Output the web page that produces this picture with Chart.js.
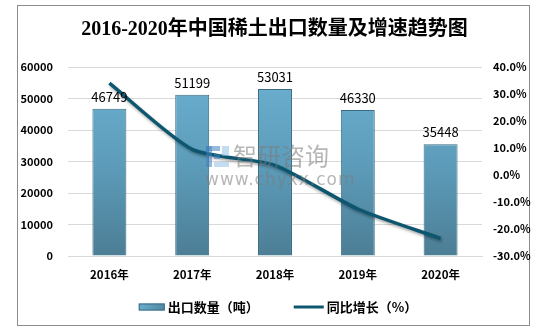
<!DOCTYPE html>
<html>
<head>
<meta charset="utf-8">
<script src="https://cdn.jsdelivr.net/npm/chart.js@4/dist/chart.umd.min.js"></script>
<style>
  html, body { margin: 0; padding: 0; background: #fff; }
  #wrap { width: 549px; height: 335px; position: relative; }
</style>
</head>
<body>
<div id="wrap"><canvas id="myChart"></canvas></div>
<script>
const years = ["2016年", "2017年", "2018年", "2019年", "2020年"];
const exportTons = [46749, 51199, 53031, 46330, 35448];
const growthPct = [34.0, 9.5, 3.6, -12.6, -23.5];

const titleText = "2016-2020年中国稀土出口数量及增速趋势图";
const barLabel = "出口数量（吨）";
const lineLabel = "同比增长（%）";

const fontCn = '"Noto Sans CJK SC", "Microsoft YaHei", sans-serif';
const lineColor = "#0d566f";
const barBorder = "#3b6c83";

const myChart = document.getElementById("myChart");

// bar fill: light steel blue at the top fading to a darker tone at the base
const barFill = (context) => {
  const { ctx, chartArea } = context.chart;
  if (!chartArea) {
    return "#5d9bb9";
  }
  const grad = ctx.createLinearGradient(0, chartArea.top, 0, chartArea.bottom);
  grad.addColorStop(0, "#6cb0d0");
  grad.addColorStop(0.5, "#5d9dbb");
  grad.addColorStop(1, "#4c7e95");
  return grad;
};

// grey frame round the whole figure
const framePlugin = {
  id: "frame",
  beforeDraw: (chart) => {
    const ctx = chart.ctx;
    ctx.save();
    ctx.strokeStyle = "#8c8c8c";
    ctx.lineWidth = 1;
    ctx.strokeRect(17.5, 5.5, 512, 320);
    ctx.restore();
  },
};

// soft shadow under the growth line
const shadowPlugin = {
  id: "lineShadow",
  beforeDatasetDraw: (chart, args) => {
    if (args.meta.type === "line") {
      const ctx = chart.ctx;
      ctx.save();
      ctx.shadowColor = "rgba(0,0,0,0.35)";
      ctx.shadowBlur = 3;
      ctx.shadowOffsetX = 1;
      ctx.shadowOffsetY = 2;
    }
  },
  afterDatasetDraw: (chart, args) => {
    if (args.meta.type === "line") {
      chart.ctx.restore();
    }
  },
};

// value printed above each bar
const valuePlugin = {
  id: "barValues",
  afterDatasetsDraw: (chart) => {
    const ctx = chart.ctx;
    const meta = chart.getDatasetMeta(1);
    ctx.save();
    ctx.font = "13px " + fontCn;
    ctx.fillStyle = "#000";
    ctx.textAlign = "center";
    ctx.textBaseline = "middle";
    meta.data.forEach((bar, i) => {
      ctx.fillText(String(exportTons[i]), bar.x, bar.y - 12);
    });
    ctx.restore();
  },
};

// legend row under the axis: bar swatch, then line swatch, wide gap between
const legendPlugin = {
  id: "legendRow",
  afterDraw: (chart) => {
    const ctx = chart.ctx;
    const y = 307;
    const gap = 3;
    const itemGap = 35;
    ctx.save();
    ctx.font = "bold 13px " + fontCn;
    ctx.textBaseline = "middle";
    const w1 = ctx.measureText(barLabel).width;
    const w2 = ctx.measureText(lineLabel).width;
    const total = 26 + gap + w1 + itemGap + 30 + gap + w2;
    let x = 278 - total / 2;

    const sw = ctx.createLinearGradient(x, 0, x + 26, 0);
    sw.addColorStop(0, "#6aaecd");
    sw.addColorStop(1, "#4f87a1");
    ctx.fillStyle = sw;
    ctx.fillRect(x, y - 3.5, 26, 7);
    ctx.strokeStyle = barBorder;
    ctx.lineWidth = 1;
    ctx.strokeRect(x + 0.5, y - 3, 25, 6);
    x += 26 + gap;
    ctx.fillStyle = "#000";
    ctx.fillText(barLabel, x, y);
    x += w1 + itemGap;

    ctx.strokeStyle = lineColor;
    ctx.lineWidth = 3;
    ctx.beginPath();
    ctx.moveTo(x, y);
    ctx.lineTo(x + 30, y);
    ctx.stroke();
    x += 30 + gap;
    ctx.fillText(lineLabel, x, y);
    ctx.restore();
  },
};

// faint company mark across the middle of the plot
const markPlugin = {
  id: "mark",
  afterDraw: (chart) => {
    const ctx = chart.ctx;
    ctx.save();
    ctx.globalAlpha = 0.55;
    ctx.fillStyle = "#3f7fc0";
    ctx.fillRect(206, 146, 6, 21);
    ctx.fillRect(206, 146, 14, 5);
    ctx.fillRect(214, 154, 6, 5);
    ctx.fillStyle = "#8fc0e8";
    ctx.fillRect(222, 146, 7, 10);
    ctx.fillRect(214, 162, 15, 5);
    ctx.fillStyle = "#7a7a7a";
    ctx.font = "24px " + fontCn;
    ctx.textBaseline = "middle";
    ctx.fillText("智研咨询", 233, 156);
    ctx.font = "17px 'DejaVu Sans', sans-serif";
    ctx.letterSpacing = "1px";
    ctx.fillText("www.chyxx.com", 205, 181);
    ctx.restore();
  },
};

new Chart(myChart, {
  data: {
    labels: years,
    datasets: [
      {
        type: "line",
        label: lineLabel,
        data: growthPct,
        yAxisID: "y1",
        borderColor: lineColor,
        backgroundColor: lineColor,
        borderWidth: 3.5,
        tension: 0.22,
        pointRadius: 0,
        order: 0,
      },
      {
        type: "bar",
        label: barLabel,
        data: exportTons,
        yAxisID: "y",
        backgroundColor: barFill,
        borderColor: barBorder,
        borderWidth: 1,
        barPercentage: 0.41,
        categoryPercentage: 1,
        order: 1,
      },
    ],
  },
  options: {
    responsive: true,
    maintainAspectRatio: false,
    animation: false,
    layout: { padding: { left: 0, right: 0, top: 0, bottom: 49 } },
    plugins: {
      title: {
        display: true,
        text: titleText,
        color: "#000",
        font: { family: '"Liberation Serif", "Noto Sans CJK SC", serif', size: 20, weight: "bold" },
        padding: { top: 18, bottom: 25 },
      },
      legend: { display: false },
      tooltip: { enabled: false },
    },
    scales: {
      x: {
        grid: { display: false, drawTicks: false },
        border: { display: true, color: "#d9d9d9" },
        ticks: {
          color: "#000",
          font: { family: fontCn, size: 11.5, weight: "bold" },
          padding: 12,
        },
        afterFit: (scale) => {
          scale.height = 30;
        },
      },
      y: {
        position: "left",
        min: 0,
        max: 60000,
        ticks: {
          stepSize: 10000,
          color: "#000",
          font: { family: fontCn, size: 11, weight: "bold" },
          padding: 15,
          callback: (v) => String(v),
        },
        grid: { color: "#d9d9d9", drawTicks: false },
        border: { display: false },
        afterFit: (scale) => {
          scale.width = 68;
        },
      },
      y1: {
        position: "right",
        min: -30,
        max: 40,
        ticks: {
          stepSize: 10,
          color: "#000",
          font: { family: fontCn, size: 11, weight: "bold" },
          padding: 11,
          callback: (v) => v.toFixed(1) + "%",
        },
        grid: { display: false, drawTicks: false },
        border: { display: false },
        afterFit: (scale) => {
          scale.width = 67;
        },
      },
    },
  },
  plugins: [framePlugin, shadowPlugin, valuePlugin, legendPlugin, markPlugin],
});
</script>
</body>
</html>
